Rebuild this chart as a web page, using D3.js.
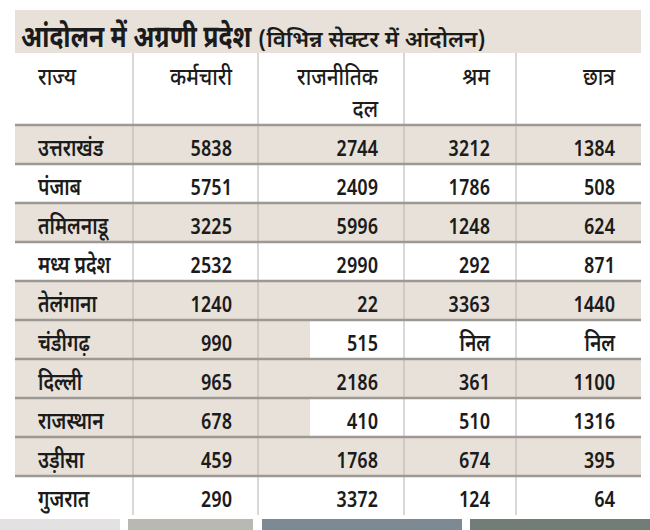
<!DOCTYPE html>
<html>
<head>
  <meta charset="utf-8">
  <title>आंदोलन में अग्रणी प्रदेश</title>
  <script src="https://d3js.org/d3.v7.min.js"></script>
  <style>
    body { margin: 0; background: #fff; }
    text { font-family: "Noto Sans Devanagari", "Noto Sans", sans-serif; fill: #1b1b1b; }
    .hline { stroke: #9c9893; stroke-width: 2.5px; }
    .vline { stroke: #b5b2ae; stroke-width: 1px; }
  </style>
</head>
<body>
  <script>
    var titleMain = "आंदोलन में अग्रणी प्रदेश";
    var titleSub = "(विभिन्न सेक्टर में आंदोलन)";
    var headers = ["राज्य", "कर्मचारी", "राजनीतिक|दल", "श्रम", "छात्र"];
    var states = ["उत्तराखंड", "पंजाब", "तमिलनाडू", "मध्य प्रदेश", "तेलंगाना", "चंडीगढ़", "दिल्ली", "राजस्थान", "उड़ीसा", "गुजरात"];
    var karmachari = ["5838", "5751", "3225", "2532", "1240", "990", "965", "678", "459", "290"];
    var rajnitikDal = ["2744", "2409", "5996", "2990", "22", "515", "2186", "410", "1768", "3372"];
    var shram = ["3212", "1786", "1248", "292", "3363", "निल", "361", "510", "674", "124"];
    var chhatra = ["1384", "508", "624", "871", "1440", "निल", "1100", "1316", "395", "64"];

    var width = 650, height = 530;
    var left = 15, right = 641;
    var colEdges = [15, 133, 258, 404, 516, 641];
    var bandTop = 10, headTop = 53, bodyTop = 125, bodyBottom = 515;
    var shade = "#e7e1d9";
    // the scan shades these two rows only over the first columns
    var partRows = [5, 7];
    var fullRows = [0, 2, 4, 6, 8];

    var rows = states.map(function(s, i) {
      return [s, karmachari[i], rajnitikDal[i], shram[i], chhatra[i]];
    });

    var svg = d3.select("body").append("svg")
      .attr("width", width).attr("height", height);

    var y = d3.scaleBand().domain(d3.range(rows.length)).range([bodyTop, bodyBottom]);
    var colL = d3.scaleOrdinal().domain(d3.range(5)).range(colEdges.slice(0, 5));
    var colR = d3.scaleOrdinal().domain(d3.range(5)).range(colEdges.slice(1));

    // title band
    svg.append("rect").attr("x", left).attr("y", bandTop)
      .attr("width", right - left).attr("height", headTop - bandTop).attr("fill", shade);

    svg.append("g").attr("transform", "translate(21,47) scale(0.8,1)")
      .append("text").style("font-size", "31px").style("font-weight", 700).text(titleMain);
    svg.append("g").attr("transform", "translate(258,47) scale(1.02,1)")
      .append("text").style("font-size", "22px").style("font-weight", 600).text(titleSub);

    // row shading
    svg.selectAll(".shade").data(d3.range(rows.length).filter(function(i) {
        return fullRows.indexOf(i) >= 0 || partRows.indexOf(i) >= 0;
      }))
      .enter().append("rect")
      .attr("x", left)
      .attr("y", function(i) { return y(i); })
      .attr("width", function(i) { return (partRows.indexOf(i) >= 0 ? 310 : right) - left; })
      .attr("height", y.bandwidth())
      .attr("fill", shade);

    // vertical lines
    svg.selectAll(".vline").data(colEdges.slice(1, 5)).enter().append("line")
      .attr("class", "vline")
      .attr("x1", function(d) { return d; }).attr("x2", function(d) { return d; })
      .attr("y1", headTop).attr("y2", bodyBottom);

    // horizontal lines
    var hl = d3.range(rows.length).map(function(i) { return y(i); });
    svg.selectAll(".hline").data(hl).enter().append("line")
      .attr("class", "hline")
      .attr("x1", left).attr("x2", right)
      .attr("y1", function(d) { return d; }).attr("y2", function(d) { return d; });

    function cellX(c) { return c === 0 ? colL(c) + 23 : colR(c) - 26; }

    function put(g, c, ty, str, size, sx, weight) {
      g.append("g")
        .attr("transform", "translate(" + cellX(c) + "," + ty + ") scale(" + sx + ",1)")
        .append("text")
        .attr("text-anchor", c === 0 ? "start" : "end")
        .style("font-size", size)
        .style("font-weight", weight)
        .text(str);
    }

    // header
    var hg = svg.append("g");
    headers.forEach(function(h, c) {
      h.split("|").forEach(function(part, k) {
        put(hg, c, 85 + k * 32, part, "24px", 0.86, 500);
      });
    });

    // body
    var bg = svg.append("g");
    rows.forEach(function(r, i) {
      r.forEach(function(v, c) {
        var isNum = /^[0-9]+$/.test(v);
        put(bg, c, y(i) + y.bandwidth() / 2 + 11, v,
          isNum ? "22px" : "24px", isNum ? 0.84 : 0.8, 600);
      });
    });

    // strip of photo at the bottom edge of the scan
    var strip = [
      { x: 0, w: 120, c: "#dcd9da" }, { x: 128, w: 125, c: "#a9a6a0" },
      { x: 262, w: 200, c: "#5d6d78" }, { x: 470, w: 180, c: "#4f5d55" }
    ];
    svg.selectAll(".strip").data(strip).enter().append("rect")
      .attr("x", function(d) { return d.x; }).attr("y", 519)
      .attr("width", function(d) { return d.w; }).attr("height", 11)
      .attr("fill", function(d) { return d.c; }).attr("opacity", 0.8);
  </script>
</body>
</html>
